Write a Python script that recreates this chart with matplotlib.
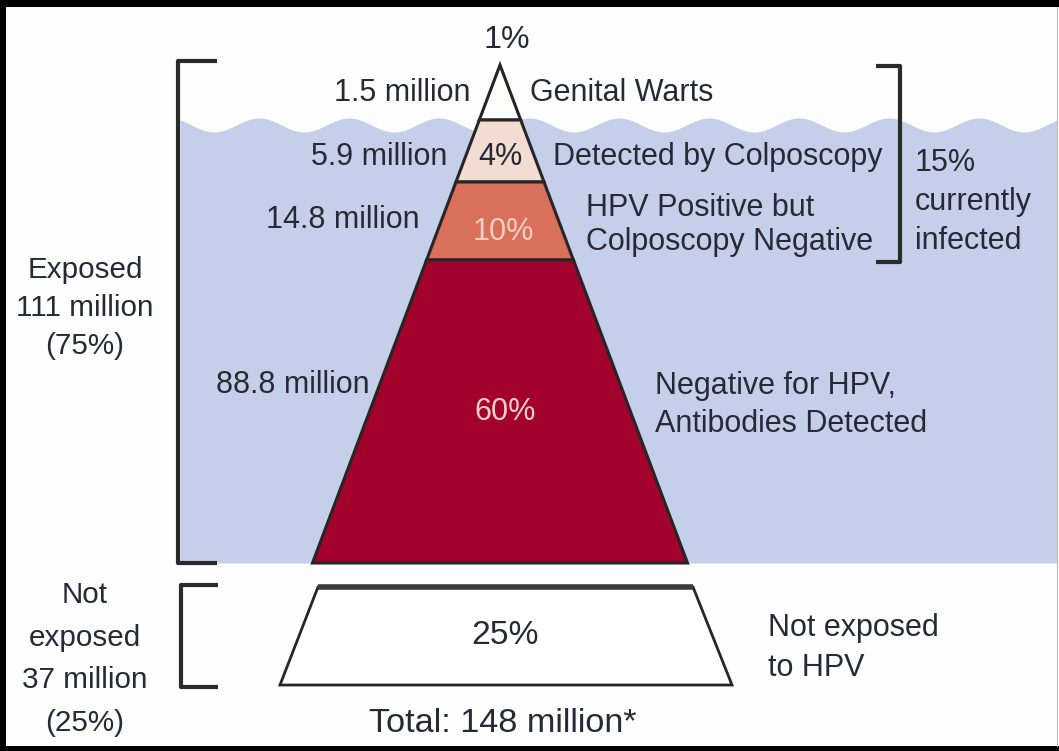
import numpy as np
import matplotlib
matplotlib.use('Agg')
import matplotlib.pyplot as plt
from matplotlib import font_manager
from matplotlib.patches import Polygon

# Data
layer_pcts = [1, 4, 10, 60]
layer_millions = [1.5, 5.9, 14.8, 88.8]
layer_descs = ['Genital Warts', 'Detected by Colposcopy',
               'HPV Positive but\nColposcopy Negative',
               'Negative for HPV,\nAntibodies Detected']
exposed_millions = 111
exposed_pct = 75
not_exposed_millions = 37
not_exposed_pct = 25
infected_pct = 15
total_millions = 148

# Layout (pixel coordinates of the original 1059x751 picture)
apex = (500, 65)
base_y = 563
base_half = 187.5
layer_edges = [65, 120, 182, 260, 563]
layer_colors = ['#fdfdfb', '#f3dcd1', '#d8705c', '#a2022b']
pct_colors = ['#262a36', '#262a36', '#f6cfc4', '#f6cfc4']
pct_pos = [(507, 40), (500, 157), (503, 232), (505, 412)]
million_pos = [(470, 93), (447, 157), (420, 220), (370, 385)]
desc_pos = [(530, 93), (553, 157), (586, 225), (655, 405)]
desc_spacing = [1.2, 1.2, 1.2, 1.35]

names = {f.name for f in font_manager.fontManager.ttflist}
scale = 1.0 if 'Liberation Sans' in names else 0.9
plt.rcParams['font.family'] = ['Liberation Sans', 'DejaVu Sans']
fs = 22 * scale
txt = '#262a36'
edge = '#262626'
blue = '#c6cfea'

fig = plt.figure(figsize=(10.59, 7.51), dpi=100, facecolor='#fdfdfd')
ax = fig.add_axes([0, 0, 1, 1])
ax.set_xlim(0, 1059)
ax.set_ylim(751, 0)
ax.axis('off')

# water with a wavy surface
xs = np.linspace(180, 1057, 600)
wave = 125 - 7 * np.cos(2 * np.pi * (xs - 619) / 90)
ax.fill_between(xs, wave, base_y, color=blue, lw=0, zorder=1)

def half_width(y):
    return (y - apex[1]) * base_half / (base_y - apex[1])

# pyramid layers
for i in range(4):
    y0, y1 = layer_edges[i], layer_edges[i + 1]
    w0, w1 = half_width(y0), half_width(y1)
    pts = [(apex[0] - w0, y0), (apex[0] + w0, y0),
           (apex[0] + w1, y1), (apex[0] - w1, y1)]
    ax.add_patch(Polygon(pts, closed=True, facecolor=layer_colors[i],
                         edgecolor=edge, lw=2.2, zorder=3))

# not exposed trapezoid
trap = [(318, 587), (693, 587), (732, 685), (280, 685)]
ax.add_patch(Polygon(trap, closed=True, facecolor='white', edgecolor=edge,
                     lw=2.0, zorder=3))
ax.plot([318, 693], [587, 587], color='#3a3a3a', lw=4, zorder=4,
        solid_capstyle='butt')

# brackets
bk = dict(color='#2a2a2a', lw=3, zorder=4, solid_capstyle='butt')
ax.plot([217, 178, 178, 217], [61, 61, 563, 563], **bk)
ax.plot([218, 181, 181, 218], [585, 585, 687, 687], **bk)
ax.plot([876, 900, 900, 876], [66, 66, 262, 262], **bk)

# labels on the pyramid
for i in range(4):
    fsz = fs * 1.05 if i == 0 else fs
    ax.text(*pct_pos[i], f'{layer_pcts[i]}%', ha='center', va='center',
            fontsize=fsz, color=pct_colors[i], zorder=5)
    ax.text(*million_pos[i], f'{layer_millions[i]} million', ha='right',
            va='center', fontsize=fs, color=txt, zorder=5)
    ax.text(*desc_pos[i], layer_descs[i], ha='left', va='center',
            fontsize=fs, color=txt, linespacing=desc_spacing[i], zorder=5)

ax.text(915, 202, f'{infected_pct}%\ncurrently\ninfected', ha='left',
        va='center', fontsize=fs, color=txt, linespacing=1.37, zorder=5)
ax.text(85, 308, f'Exposed\n{exposed_millions} million\n({exposed_pct}%)',
        ha='center', va='center', fontsize=fs * 0.97, color=txt,
        linespacing=1.45, zorder=5)
ax.text(85, 659, f'Not\nexposed\n{not_exposed_millions} million\n({not_exposed_pct}%)',
        ha='center', va='center', fontsize=fs * 0.97, color=txt,
        linespacing=1.68, zorder=5)
ax.text(505, 636, f'{not_exposed_pct}%', ha='center', va='center',
        fontsize=fs * 1.1, color=txt, zorder=5)
ax.text(768, 648, 'Not exposed\nto HPV', ha='left', va='center',
        fontsize=fs, color=txt, linespacing=1.45, zorder=5)
ax.text(503, 723, f'Total: {total_millions} million*', ha='center',
        va='center', fontsize=fs * 1.12, color=txt, zorder=5)

# picture frame
ax.fill_between([0, 1059], 0, 7, color='black', lw=0, zorder=6)
ax.fill_between([0, 1059], 746, 751, color='black', lw=0, zorder=6)
ax.fill_between([0, 6], 0, 751, color='black', lw=0, zorder=6)
ax.plot([1057, 1057], [7, 746], color='#bbbbbb', lw=0.8, zorder=6)

fig.savefig('out.png', dpi=100, facecolor=fig.get_facecolor())
